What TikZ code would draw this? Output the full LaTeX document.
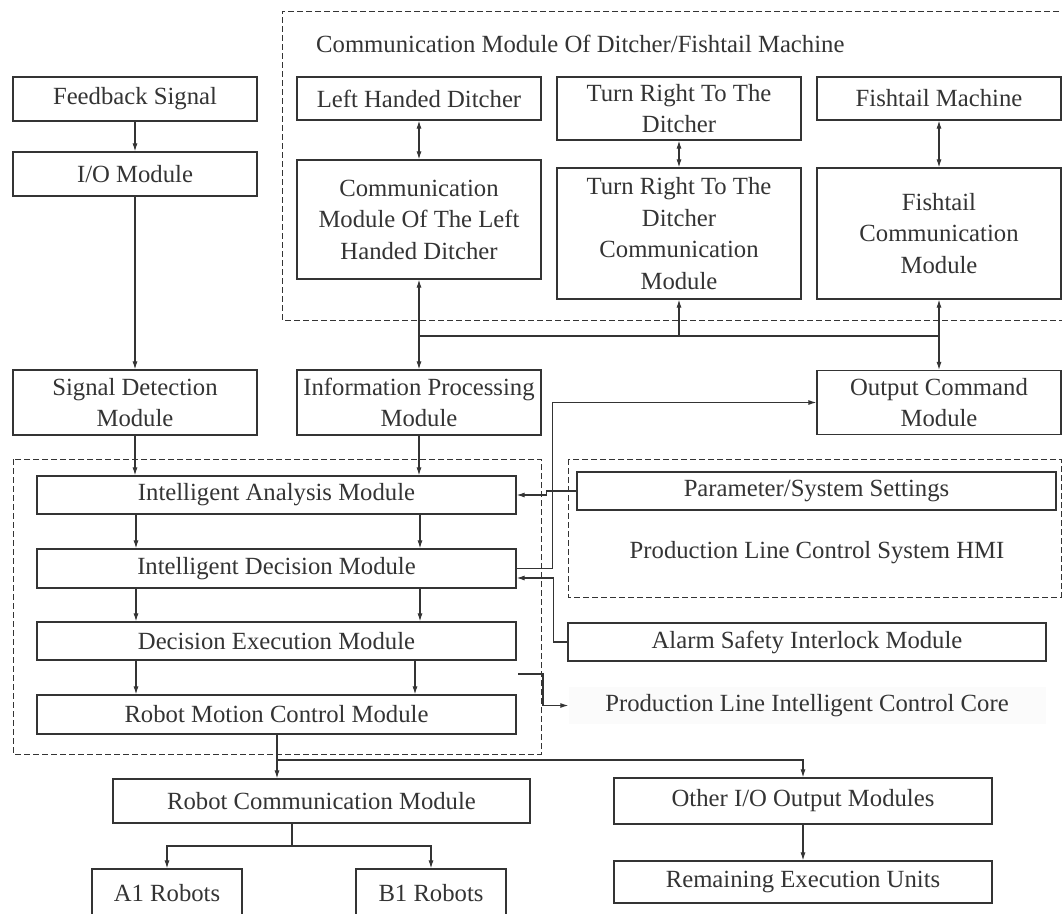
\documentclass[tikz,border=0pt]{standalone}
\usepackage{fontspec}
\setmainfont{Liberation Serif}
\usetikzlibrary{arrows.meta,calc}
\definecolor{ink}{RGB}{52,52,52}
\begin{document}
\begin{tikzpicture}[x=1pt,y=-1pt,
  every node/.style={text=ink,font=\fontsize{24.7}{31.5}\selectfont},
  box/.style={draw=ink,line width=1.2pt,inner sep=0pt,align=center},
  dashbox/.style={draw=ink,line width=1pt,dash pattern=on 6pt off 3pt},
  link/.style={draw=ink,line width=1.1pt},
  arr/.style={link,-{Latex[length=8pt,width=5pt]}},
  dbl/.style={link,{Latex[length=8pt,width=5pt]}-{Latex[length=8pt,width=5pt]}},
  lbl/.style={inner sep=0pt}]
\useasboundingbox (0,0) rectangle (1062,913);
\clip (0,0) rectangle (1062,913);
\fill[white] (0,0) rectangle (1062,913);

% dashed groups
\draw[dashbox] (1068,11) -- (282,11) -- (282,320) -- (1068,320);
\draw[dashbox] (13,459) rectangle (541,754);
\draw[dashbox] (568,459) rectangle (1061,597);

% labels of groups
\node[lbl,anchor=west] (ttl) at (316,44) {Communication Module Of Ditcher/Fishtail Machine};
\node[lbl] (hmi) at (817,553) {Production Line Control System HMI};
\node[lbl,fill=black!1.5,minimum width=477pt,minimum height=37pt] (core) at (807,705.5) {Production Line Intelligent Control Core};

% left column
\node[box,minimum width=244pt,minimum height=44pt] (fb) at (135,99) {Feedback Signal};
\node[box,minimum width=244pt,minimum height=44pt] (io) at (135,174) {I/O Module};
\node[box,minimum width=244pt,minimum height=65pt] (sd) at (135,402.5) {Signal Detection\\Module};

% ditcher group
\node[box,minimum width=244pt,minimum height=43pt] (lhd) at (419,98.5) {Left Handed Ditcher};
\node[box,minimum width=244pt,minimum height=119pt] (cl) at (419,219.5) {Communication\\Module Of The Left\\Handed Ditcher};
\node[box,minimum width=244pt,minimum height=63pt] (tr) at (679,108.5) {Turn Right To The\\Ditcher};
\node[box,minimum width=244pt,minimum height=131pt] (trc) at (679,233.5) {Turn Right To The\\Ditcher\\Communication\\Module};
\node[box,minimum width=244pt,minimum height=43pt] (fm) at (939,98.5) {Fishtail Machine};
\node[box,minimum width=244pt,minimum height=131pt] (fc) at (939,233.5) {Fishtail\\Communication\\Module};

% second row
\node[box,minimum width=244pt,minimum height=65pt] (info) at (419,402.5) {Information Processing\\Module};
\node[box,minimum width=244pt,minimum height=64pt] (out) at (939,402.5) {Output Command\\Module};

% core modules
\node[box,minimum width=479pt,minimum height=38pt] (ia) at (276.5,495) {Intelligent Analysis Module};
\node[box,minimum width=479pt,minimum height=39pt] (id) at (276.5,568.5) {Intelligent Decision Module};
\node[box,minimum width=479pt,minimum height=38pt] (de) at (276.5,641) {Decision Execution Module};
\node[box,minimum width=479pt,minimum height=39pt] (rmc) at (276.5,714.5) {Robot Motion Control Module};

% HMI side
\node[box,minimum width=479pt,minimum height=38pt] (param) at (816.5,491) {Parameter/System Settings};
\node[box,minimum width=478pt,minimum height=38pt] (alarm) at (807,642) {Alarm Safety Interlock Module};

% bottom
\node[box,minimum width=417pt,minimum height=44pt] (rc) at (321.5,801) {Robot Communication Module};
\node[box,minimum width=150pt,minimum height=48pt] (a1) at (167,893) {A1 Robots};
\node[box,minimum width=150pt,minimum height=48pt] (b1) at (431,893) {B1 Robots};
\node[box,minimum width=378pt,minimum height=46pt] (oio) at (803,801) {Other I/O Output Modules};
\node[box,minimum width=378pt,minimum height=42pt] (reu) at (803,882) {Remaining Execution Units};

% left column links
\draw[arr] (fb) -- (io);
\draw[arr] (io) -- (sd);

% ditcher links
\draw[dbl] (lhd) -- (cl);
\draw[dbl] (tr) -- (trc);
\draw[dbl] (fm) -- (fc);
\coordinate (busL) at (419,336);
\coordinate (busR) at (939,336);
\draw[dbl] (cl) -- (info);
\draw[dbl] (fc) -- (out);
\draw[link] (busL) -- (busR);
\draw[arr] (busL -| trc.south) -- (trc.south);

% into core
\draw[arr] (sd.south) -- (sd.south |- ia.north);
\draw[arr] (info.south) -- (info.south |- ia.north);
\coordinate (cx1) at (136,0);
\coordinate (cx2) at (420,0);
\coordinate (cx3) at (415,0);
\draw[arr] (ia.south -| cx1) -- (id.north -| cx1);
\draw[arr] (ia.south -| cx2) -- (id.north -| cx2);
\draw[arr] (id.south -| cx1) -- (de.north -| cx1);
\draw[arr] (id.south -| cx2) -- (de.north -| cx2);
\draw[arr] (de.south -| cx1) -- (rmc.north -| cx1);
\draw[arr] (de.south -| cx3) -- (rmc.north -| cx3);

% side links
\draw[arr] (id.east) -- ++(36,0) |- (out.west);
\draw[arr] (param.west) -- ++(-30,0) -- ++(0,4) -- (ia.east);
\draw[arr] (alarm.west) -- ++(-14,0) |- ([yshift=-9.5pt]id.east);
\coordinate (corep) at (518,674);
\draw[arr] (corep) -- (543,674) |- (core.west);

% bottom links
\coordinate (rj1) at (277,760);
\draw[arr] (rmc.south -| rj1) -- (rc.north -| rj1);
\draw[arr] (rj1) -| (oio.north);
\draw[arr] (oio) -- (reu);
\coordinate (rj2) at (292,846);
\draw[link] (rc.south -| rj2) -- (rj2);
\draw[arr] (rj2) -| (a1.north);
\draw[arr] (rj2) -| (b1.north);
\end{tikzpicture}
\end{document}
